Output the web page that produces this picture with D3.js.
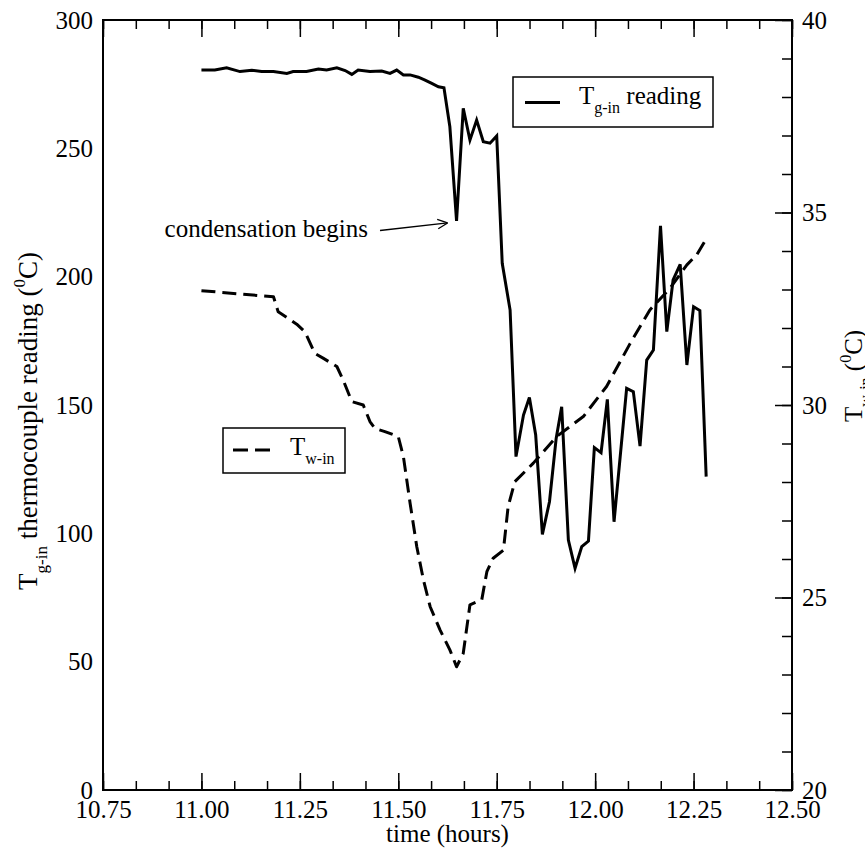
<!DOCTYPE html>
<html>
<head>
<meta charset="utf-8">
<script src="https://cdn.jsdelivr.net/npm/d3@7"></script>
<style>
	body { margin: 0; background: white; }
	svg { display: block; }
</style>
</head>
<body>
<svg id="chart" width="865" height="848"></svg>
<script>
// T_g-in thermocouple reading (left axis)
var tgTime = [11.000, 11.034, 11.064, 11.098, 11.128, 11.153, 11.183, 11.217, 11.233, 11.267,
	11.297, 11.318, 11.344, 11.365, 11.382, 11.398, 11.428, 11.458, 11.479, 11.496,
	11.513, 11.530, 11.551, 11.568, 11.585, 11.602, 11.616, 11.631, 11.648, 11.665,
	11.682, 11.699, 11.716, 11.733, 11.750, 11.764, 11.784, 11.799, 11.818, 11.833,
	11.849, 11.866, 11.884, 11.901, 11.915, 11.932, 11.949, 11.966, 11.983, 11.998,
	12.015, 12.031, 12.048, 12.080, 12.097, 12.114, 12.131, 12.148, 12.166, 12.182,
	12.198, 12.216, 12.233, 12.250, 12.266, 12.282]
var tgValue = [280.5, 280.5, 281.4, 279.9, 280.4, 279.9, 279.9, 279.2, 279.9, 279.9,
	280.9, 280.5, 281.4, 280.3, 278.8, 280.5, 279.9, 280.1, 279.2, 280.5,
	278.6, 278.6, 277.7, 276.6, 275.3, 274.0, 273.6, 258.4, 221.7, 265.6,
	253.2, 261.0, 252.6, 252.0, 254.8, 205.2, 187.0, 129.9, 146.1, 152.9,
	138.3, 99.6, 112.3, 137.0, 149.3, 97.4, 86.4, 94.8, 97.0, 133.4,
	131.4, 152.2, 104.5, 156.5, 155.2, 134.0, 167.5, 171.4, 219.8, 178.6,
	198.7, 204.8, 165.6, 188.3, 186.8, 122.1]

// T_w-in (right axis)
var twTime = [11.000, 11.183, 11.195, 11.242, 11.263, 11.288, 11.310, 11.344, 11.360, 11.382,
	11.411, 11.428, 11.441, 11.466, 11.500, 11.513, 11.530, 11.547, 11.564, 11.581,
	11.606, 11.631, 11.648, 11.665, 11.682, 11.712, 11.725, 11.741, 11.767, 11.779,
	11.796, 11.843, 11.902, 11.970, 12.029, 12.089, 12.139, 12.190, 12.233, 12.258, 12.283]
var twValue = [32.97, 32.81, 32.42, 32.10, 31.90, 31.34, 31.21, 31.00, 30.65, 30.09,
	30.00, 29.57, 29.39, 29.31, 29.18, 28.66, 27.45, 26.32, 25.45, 24.76,
	24.16, 23.64, 23.20, 23.55, 24.81, 24.94, 25.67, 26.02, 26.23, 27.36,
	28.01, 28.49, 29.18, 29.70, 30.48, 31.60, 32.47, 33.03, 33.64, 33.90, 34.33]

var xTicks = [10.75, 11.00, 11.25, 11.50, 11.75, 12.00, 12.25, 12.50]
var leftTicks = [0, 50, 100, 150, 200, 250, 300]
var rightTicks = [20, 25, 30, 35, 40]

var chart = {
	left: 103, right: 792, top: 20, bottom: 790,
	font: '"Liberation Serif", "Times New Roman", serif',
	fontSize: 25,
	subSize: 16,
	lineWidth: 3
}

var svg = d3.select('#chart')

var x = d3.scaleLinear()
	.domain([10.75, 12.50])
	.range([chart.left, chart.right])
var yL = d3.scaleLinear()
	.domain([0, 300])
	.range([chart.bottom, chart.top])
var yR = d3.scaleLinear()
	.domain([20, 40])
	.range([chart.bottom, chart.top])

var xMinor = d3.range(0, 22).map(function(i){ return 10.75 + i*0.25/3 })
	.filter(function(d){ return d <= 12.5001 })
var rMinor = d3.range(20, 41)

function styleAxis(g) {
	g.select('.domain').remove()
	g.selectAll('line').attr('stroke', 'black').attr('stroke-width', 1.5)
	g.selectAll('text')
		.style('font-family', chart.font)
		.style('font-size', chart.fontSize + 'px')
		.attr('fill', 'black')
}

// minor ticks
svg.append('g')
	.attr('transform', 'translate(0,' + chart.bottom + ')')
	.call(d3.axisBottom(x).tickValues(xMinor).tickSize(-9).tickFormat(''))
	.call(styleAxis)
svg.append('g')
	.attr('transform', 'translate(0,' + chart.top + ')')
	.call(d3.axisTop(x).tickValues(xMinor).tickSize(-9).tickFormat(''))
	.call(styleAxis)
svg.append('g')
	.attr('transform', 'translate(' + chart.right + ',0)')
	.call(d3.axisRight(yR).tickValues(rMinor).tickSize(-10).tickFormat(''))
	.call(styleAxis)

// major ticks + labels
svg.append('g')
	.attr('transform', 'translate(0,' + chart.bottom + ')')
	.call(d3.axisBottom(x).tickValues(xTicks).tickSize(-17).tickPadding(10).tickFormat(d3.format('.2f')))
	.call(styleAxis)
svg.append('g')
	.attr('transform', 'translate(0,' + chart.top + ')')
	.call(d3.axisTop(x).tickValues(xTicks).tickSize(-17).tickFormat(''))
	.call(styleAxis)
svg.append('g')
	.attr('transform', 'translate(' + chart.left + ',0)')
	.call(d3.axisLeft(yL).tickValues(leftTicks).tickSize(0).tickPadding(10))
	.call(styleAxis)
svg.append('g')
	.attr('transform', 'translate(' + chart.right + ',0)')
	.call(d3.axisRight(yR).tickValues(rightTicks).tickSize(-17).tickPadding(10))
	.call(styleAxis)

// frame
svg.append('rect')
	.attr('x', chart.left)
	.attr('y', chart.top)
	.attr('width', chart.right - chart.left)
	.attr('height', chart.bottom - chart.top)
	.attr('fill', 'none')
	.attr('stroke', 'black')
	.attr('stroke-width', 2)

// series
var tgLine = d3.line()
	.x(function(d){ return x(d[0]) })
	.y(function(d){ return yL(d[1]) })
var twLine = d3.line()
	.x(function(d){ return x(d[0]) })
	.y(function(d){ return yR(d[1]) })

svg.append('path')
	.datum(d3.zip(twTime, twValue))
	.attr('d', twLine)
	.attr('fill', 'none')
	.attr('stroke', 'black')
	.attr('stroke-width', chart.lineWidth)
	.attr('stroke-dasharray', '14,7')
	.attr('stroke-linejoin', 'round')

svg.append('path')
	.datum(d3.zip(tgTime, tgValue))
	.attr('d', tgLine)
	.attr('fill', 'none')
	.attr('stroke', 'black')
	.attr('stroke-width', chart.lineWidth)
	.attr('stroke-linejoin', 'miter')

function addText(parent, px, py, parts, anchor, size) {
	var fs = size || chart.fontSize
	var ss = Math.round(fs*0.64)
	var t = parent.append('text')
		.attr('x', px)
		.attr('y', py)
		.attr('fill', 'black')
		.style('font-family', chart.font)
		.style('font-size', fs + 'px')
		.style('text-anchor', anchor || 'start')
	parts.forEach(function(p){
		var s = t.append('tspan').text(p.t)
		if (p.sub) s.attr('dy', fs*0.36).style('font-size', ss + 'px')
		if (p.sup) s.attr('dy', -fs*0.44).style('font-size', ss + 'px')
		if (p.back) s.attr('dy', p.back*fs/25)
	})
	return t
}

// axis titles
addText(svg, (chart.left + chart.right)/2, 842, [{t: 'time (hours)'}], 'middle')

addText(svg.append('g').attr('transform', 'translate(37,590) rotate(-90)'), 0, 0, [
	{t: 'T'}, {t: 'g-in', sub: true}, {t: ' thermocouple reading (', back: -9},
	{t: '0', sup: true}, {t: 'C)', back: 11}
], 'start', 27)

addText(svg.append('g').attr('transform', 'translate(862,422) rotate(-90)'), 0, 0, [
	{t: 'T'}, {t: 'w-in', sub: true}, {t: ' (', back: -9},
	{t: '0', sup: true}, {t: 'C)', back: 11}
])

// annotation
addText(svg, 368, 237, [{t: 'condensation begins'}], 'end')
var ax0 = 380, ay0 = 230.5, ax1 = x(11.648) - 9, ay1 = yL(221.7) + 2
svg.append('line')
	.attr('x1', ax0).attr('y1', ay0)
	.attr('x2', ax1).attr('y2', ay1)
	.attr('stroke', 'black').attr('stroke-width', 1.3)
var ang = Math.atan2(ay1 - ay0, ax1 - ax0)
;[-0.45, 0.45].forEach(function(da){
	svg.append('line')
		.attr('x1', ax1).attr('y1', ay1)
		.attr('x2', ax1 - 11*Math.cos(ang + da))
		.attr('y2', ay1 - 11*Math.sin(ang + da))
		.attr('stroke', 'black').attr('stroke-width', 1.3)
})

// legends
var leg1 = svg.append('g')
leg1.append('rect')
	.attr('x', 513).attr('y', 77).attr('width', 200).attr('height', 50)
	.attr('fill', 'white').attr('stroke', 'black').attr('stroke-width', 1.5)
leg1.append('line')
	.attr('x1', 525).attr('x2', 560).attr('y1', 102.5).attr('y2', 102.5)
	.attr('stroke', 'black').attr('stroke-width', chart.lineWidth)
addText(leg1, 579, 104, [{t: 'T'}, {t: 'g-in', sub: true}, {t: ' reading', back: -9}])

var leg2 = svg.append('g')
leg2.append('rect')
	.attr('x', 223).attr('y', 428).attr('width', 122).attr('height', 45)
	.attr('fill', 'white').attr('stroke', 'black').attr('stroke-width', 1.5)
leg2.append('line')
	.attr('x1', 233).attr('x2', 270).attr('y1', 450).attr('y2', 450)
	.attr('stroke', 'black').attr('stroke-width', chart.lineWidth)
	.attr('stroke-dasharray', '15,7')
addText(leg2, 290, 455, [{t: 'T'}, {t: 'w-in', sub: true}])
</script>
</body>
</html>
